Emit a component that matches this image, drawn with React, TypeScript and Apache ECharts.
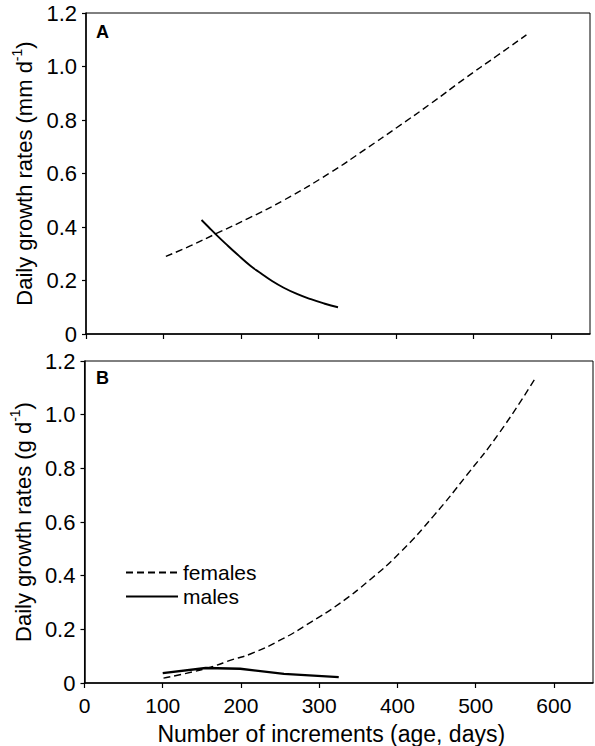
import React, { useEffect, useRef } from "react";
import * as echarts from "echarts";

const xTicks = [0, 100, 200, 300, 400, 500, 600];

const femalesA_x = [103, 135, 167, 210, 255, 315, 360, 401, 445, 487, 530, 568];
const femalesA_y = [0.29, 0.33, 0.374, 0.433, 0.5, 0.603, 0.69, 0.772, 0.862, 0.952, 1.04, 1.118];
const malesA_x = [149, 158, 167, 180, 195, 212, 225, 240, 255, 272, 290, 307, 325];
const malesA_y = [0.426, 0.4, 0.374, 0.338, 0.298, 0.255, 0.228, 0.198, 0.173, 0.15, 0.13, 0.114, 0.1];

const femalesB_x = [101, 130, 161, 190, 212, 253, 290, 325, 365, 404, 446, 489, 531, 575];
const femalesB_y = [0.018, 0.036, 0.059, 0.088, 0.108, 0.164, 0.228, 0.294, 0.385, 0.488, 0.622, 0.776, 0.935, 1.13];
const malesB_x = [100, 155, 199, 255, 325];
const malesB_y = [0.037, 0.056, 0.053, 0.034, 0.022];

const FONT = "'Liberation Sans', Arial, Helvetica, sans-serif";

const pairs = (xs: number[], ys: number[]) => xs.map((x, i) => [x, ys[i]]);

export default function App() {
  const ref = useRef<HTMLDivElement>(null);
  useEffect(() => {
    if (!ref.current) return;
    const chart = echarts.init(ref.current, null, { renderer: "svg" });
    const xAxisBase = (gridIndex: number, showLabels: boolean) => ({
      type: "value",
      gridIndex,
      min: 0,
      max: 650,
      axisLine: { show: true, lineStyle: { color: "#000", width: 1.5 } },
      axisTick: {
        show: true,
        length: 5,
        inside: false,
        customValues: xTicks,
        lineStyle: { color: "#000", width: 1.2 },
      },
      axisLabel: {
        show: showLabels,
        customValues: xTicks,
        color: "#000",
        fontSize: 21,
        fontFamily: FONT,
        margin: 12,
      },
      splitLine: { show: false },
      name: showLabels ? "Number of increments (age, days)" : "",
      nameLocation: "middle",
      nameGap: 39,
      nameTextStyle: { color: "#000", fontSize: 23, fontFamily: FONT, padding: [0, 15, 0, 0] },
    });
    const yAxisBase = (gridIndex: number, unit: string) => ({
      type: "value",
      gridIndex,
      min: 0,
      max: 1.2,
      interval: 0.2,
      axisLine: { show: true, lineStyle: { color: "#000", width: 1.5 } },
      axisTick: { show: true, length: 4, inside: false, lineStyle: { color: "#000", width: 1.2 } },
      axisLabel: {
        color: "#000",
        fontSize: 22,
        fontFamily: FONT,
        margin: 9,
        formatter: (v: number) => (v === 0 ? "0" : v.toFixed(1)),
      },
      splitLine: { show: false },
      name: "{a|Daily growth rates (" + unit + " d}{s|-1}{a|)}",
      nameLocation: "middle",
      nameGap: 47,
      nameTextStyle: {
        color: "#000",
        fontFamily: FONT,
        rich: {
          a: { fontSize: 22, fontFamily: FONT, color: "#000", verticalAlign: "bottom", lineHeight: 26 },
          s: { fontSize: 14, fontFamily: FONT, color: "#000", verticalAlign: "top", lineHeight: 26, padding: [0, 0, 10, 0] },
        },
      },
    });
    chart.setOption({
      animation: false,
      backgroundColor: "#fff",
      grid: [
        { left: 86, top: 13, width: 504, height: 321, show: true, borderColor: "#000", borderWidth: 1, backgroundColor: "transparent" },
        { left: 84, top: 361, width: 509, height: 323, show: true, borderColor: "#000", borderWidth: 1, backgroundColor: "transparent" },
      ],
      xAxis: [xAxisBase(0, false), xAxisBase(1, true)],
      yAxis: [yAxisBase(0, "mm"), yAxisBase(1, "g")],
      legend: {
        data: ["females", "males"],
        orient: "vertical",
        left: 120,
        top: 557,
        itemWidth: 52,
        itemHeight: 14,
        itemGap: 3,
        itemStyle: { opacity: 0 },
        textStyle: { color: "#000", fontSize: 21, fontFamily: FONT },
        selectedMode: false,
      },
      series: [
        {
          name: "females",
          type: "line",
          xAxisIndex: 0,
          yAxisIndex: 0,
          data: pairs(femalesA_x, femalesA_y),
          smooth: true,
          symbol: "none",
          lineStyle: { color: "#000", width: 1.4, type: [7, 4] },
          itemStyle: { color: "#000" },
        },
        {
          name: "males",
          type: "line",
          xAxisIndex: 0,
          yAxisIndex: 0,
          data: pairs(malesA_x, malesA_y),
          smooth: true,
          symbol: "none",
          lineStyle: { color: "#000", width: 1.9 },
          itemStyle: { color: "#000" },
        },
        {
          name: "females",
          type: "line",
          xAxisIndex: 1,
          yAxisIndex: 1,
          data: pairs(femalesB_x, femalesB_y),
          smooth: true,
          symbol: "none",
          lineStyle: { color: "#000", width: 1.4, type: [7, 4] },
          itemStyle: { color: "#000" },
        },
        {
          name: "males",
          type: "line",
          xAxisIndex: 1,
          yAxisIndex: 1,
          data: pairs(malesB_x, malesB_y),
          smooth: false,
          symbol: "none",
          lineStyle: { color: "#000", width: 2.4 },
          itemStyle: { color: "#000" },
        },
      ],
      graphic: [
        { type: "text", left: 96, top: 23, style: { text: "A", fontSize: 18, fontWeight: "bold", fontFamily: FONT, fill: "#000" } },
        { type: "text", left: 96, top: 369, style: { text: "B", fontSize: 18, fontWeight: "bold", fontFamily: FONT, fill: "#000" } },
      ],
    });
    return () => chart.dispose();
  }, []);
  return <div ref={ref} style={{ position: "fixed", left: 0, top: 0, width: 595, height: 746 }} />;
}
